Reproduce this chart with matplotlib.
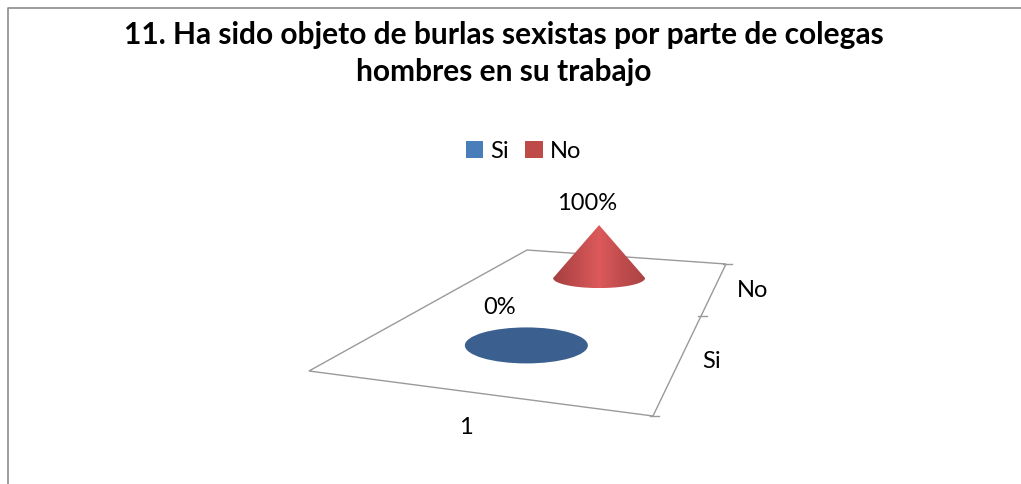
import numpy as np
import matplotlib.pyplot as plt
from matplotlib.colors import LinearSegmentedColormap
from matplotlib.patches import Ellipse, Patch, Polygon

plt.rcParams['font.family'] = ['Lato', 'DejaVu Sans']

title = '11. Ha sido objeto de burlas sexistas por parte de colegas\nhombres en su trabajo'
series = ['Si', 'No']
category = '1'
values = [0, 100]
value_labels = ['0%', '100%']

# floor of the 3d chart in pixels: front left, front right, back right, back left
floor = np.array([[309, 372], [653, 417], [726, 265], [527, 251]], dtype=float)
cone_height = 0.53  # pixels per percent
across = [0.514, 0.503]
depth = [0.225, 0.745]
half_w = [61.5, 46]
half_h = [18, 10]
label_dx = [30, 37]


def project(u, v):
    # perspective map from the unit square to the floor
    src = [(0, 0), (1, 0), (1, 1), (0, 1)]
    a = []
    b = []
    for (x, y), (px, py) in zip(src, floor):
        a.append([x, y, 1, 0, 0, 0, -px * x, -px * y])
        a.append([0, 0, 0, x, y, 1, -py * x, -py * y])
        b += [px, py]
    h = np.linalg.solve(np.array(a), np.array(b))
    w = h[6] * u + h[7] * v + 1
    return (h[0] * u + h[1] * v + h[2]) / w, (h[3] * u + h[4] * v + h[5]) / w


fig = plt.figure(figsize=(10.21, 4.85), dpi=100)
ax = fig.add_axes([0, 0, 1, 1])
ax.set_xlim(0, 1021)
ax.set_ylim(485, 0)
ax.axis('off')

# outer frame of the chart
ax.plot([7.5, 7.5, 1021], [485, 8.5, 8.5], color='#8c8c8c', lw=1.2)

ax.add_patch(Polygon(floor, closed=True, fc='white', ec='#9a9a9a', lw=1))

# depth axis ticks
n = len(series)
for i in range(n + 1):
    x, y = project(1, i / n)
    ax.plot([x - 3, x + 6], [y, y], color='#9a9a9a', lw=1)

cmap = LinearSegmentedColormap.from_list('cone', ['#a63f40', '#c04c4d', '#dc5a5b', '#c04c4d', '#ab4443'])

for i, name in enumerate(series):
    cx, cy = project(across[i], depth[i])
    w = half_w[i]
    h = half_h[i]
    top = cy - values[i] * cone_height
    if values[i] == 0:
        ax.add_patch(Ellipse((cx, cy), 2 * w, 2 * h, fc='#3b5f8f', ec='none', zorder=3))
        ax.text(cx - 27, cy - 39, value_labels[i], fontsize=17, ha='center', va='center')
    else:
        t = np.linspace(0, np.pi, 40)
        outline = [(cx, top)] + [(cx - w * np.cos(a), cy + h * np.sin(a)) for a in t]
        clip = Polygon(outline, closed=True, fc='none', ec='none', transform=ax.transData)
        ax.add_patch(clip)
        img = ax.imshow(np.linspace(0, 1, 200).reshape(1, -1), cmap=cmap, aspect='auto',
                        extent=(cx - w, cx + w, cy + h, top), zorder=3)
        img.set_clip_path(clip)
        ax.set_xlim(0, 1021)
        ax.set_ylim(485, 0)
        ax.text(cx - 12, top - 23, value_labels[i], fontsize=17, ha='center', va='center')

# depth and category labels
for i, name in enumerate(series):
    x, y = project(1, (i + 0.5) / n)
    ax.text(x + label_dx[i], y + 3, name, fontsize=17, ha='center', va='center')
ax.text(466, 428, category, fontsize=17, ha='center', va='center')

ax.text(504, 53.5, title, fontsize=21.5, fontweight='bold', ha='center', va='center', linespacing=1.36)

handles = [Patch(fc='#4a7ebb', ec='none'), Patch(fc='#be4b48', ec='none')]
ax.legend(handles, series, loc='center', bbox_to_anchor=(523.5 / 1021, 1 - 152 / 485), ncol=2, frameon=False,
          fontsize=17, handlelength=0.75, handleheight=0.75, handletextpad=0.3, columnspacing=0.68)

fig.savefig('out.png', dpi=100)
